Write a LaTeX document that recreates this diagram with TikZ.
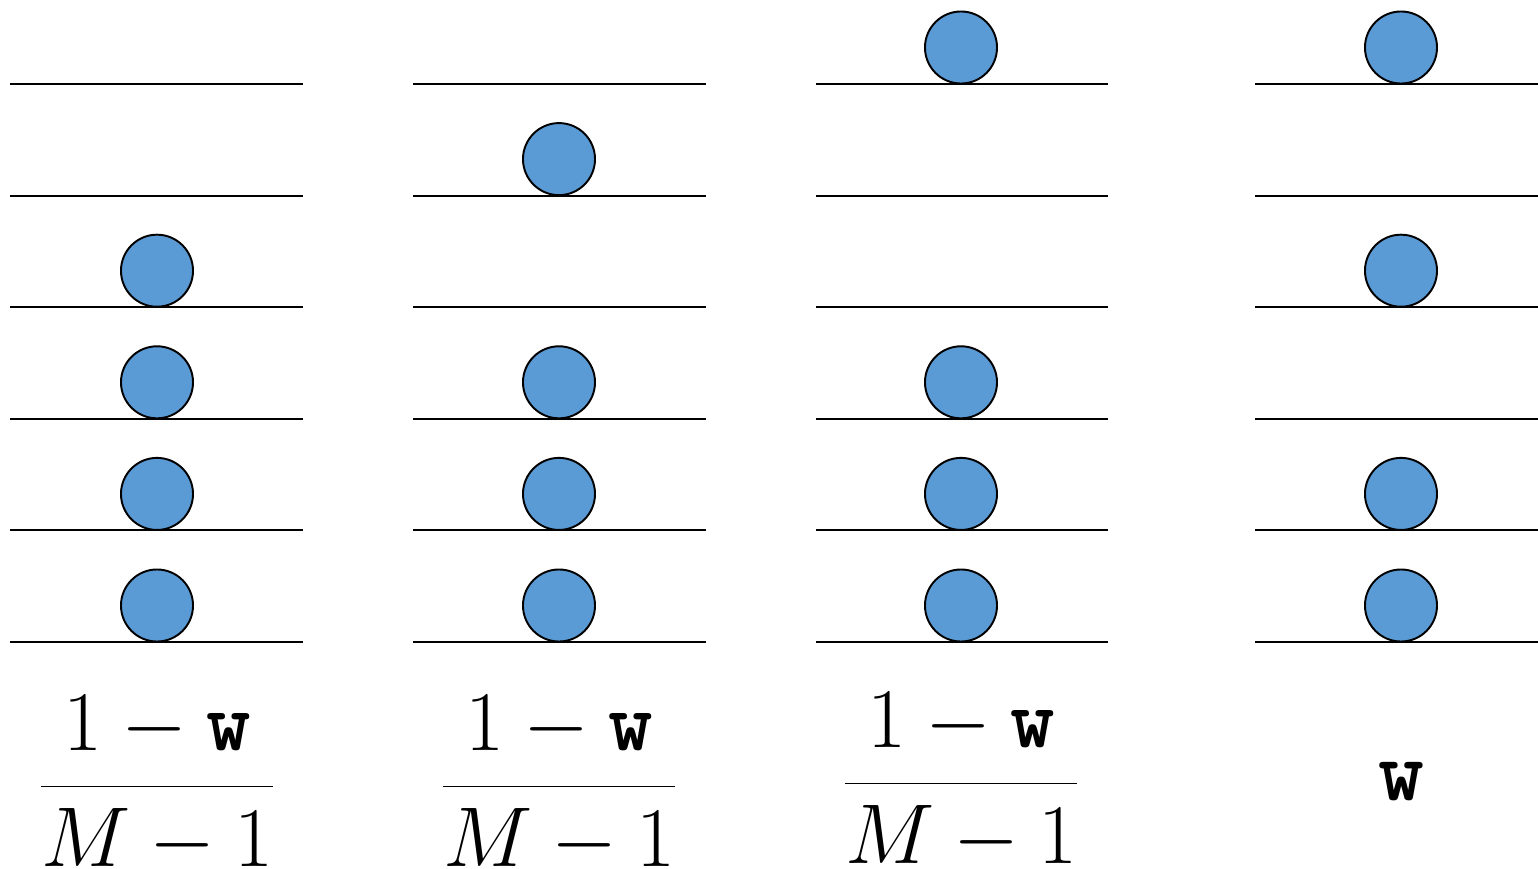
\documentclass[tikz,border=0pt]{standalone}
\usepackage{fontspec}
\usepackage{tikz}
\usetikzlibrary{positioning}
\definecolor{ballblue}{HTML}{5B9BD5}
\newcommand{\wtt}{\texttt{\bfseries w}}
\newcommand{\probfrac}{\scalebox{0.97}{$\displaystyle\frac{1-\wtt}{M-1}$}}

\begin{document}
\begin{tikzpicture}[x=0.01cm,y=-0.01cm]
  \tikzset{
    shelf/.style={black,line width=0.6pt},
    ball/.style={circle,draw=black,fill=ballblue,line width=0.55pt,minimum size=0.72cm,inner sep=0pt},
    prob/.style={anchor=base,font=\Huge,inner sep=0pt}
  }
  \useasboundingbox (0,0) rectangle (1538,869);
  % shelves
  \foreach \c/\xa/\xb in {1/10/303,2/413/706,3/816/1108,4/1255/1538}
    \foreach \y in {84,196,307,419,530,642}
      {\draw[shelf] (\xa,\y) -- (\xb,\y);}
  % balls
  \foreach \c/\x/\rows in {1/157/{3,4,5,6},2/559/{2,4,5,6},3/961/{1,4,5,6},4/1401/{1,3,5,6}}
    \foreach \r in \rows
      {\pgfmathsetmacro{\yb}{642-111.6*(6-\r)-36.5}
       \node[ball] (b\c\r) at (\x,\yb) {};}
  % probabilities
  \node[prob] (p1) at (157,808) {\probfrac};
  \node[prob] (p2) at (559,808) {\probfrac};
  \node[prob] (p3) at (961,805) {\probfrac};
  \node[prob] (p4) at (1401,800) {\wtt};
\end{tikzpicture}
\end{document}
